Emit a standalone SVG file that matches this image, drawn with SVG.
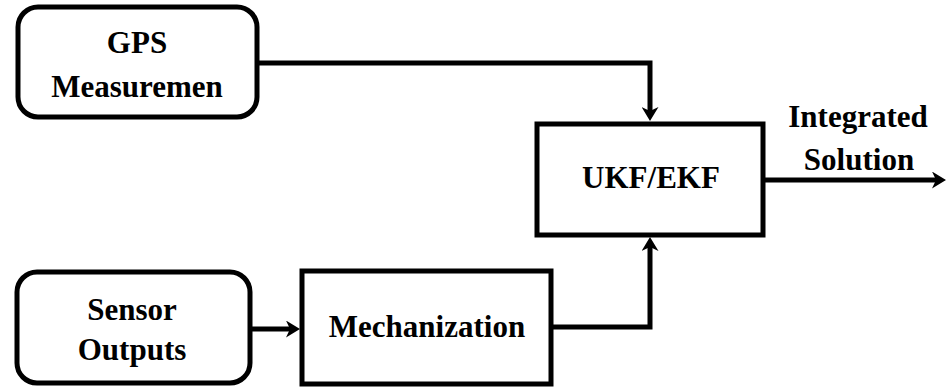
<svg xmlns="http://www.w3.org/2000/svg" width="947" height="392" viewBox="0 0 947 392">
<style>
.box{fill:#fff;stroke:#000;stroke-width:5}
.lbl{font-family:"Liberation Serif","Times New Roman",serif;font-weight:bold;font-size:31px;fill:#000;text-anchor:middle}
.conn{fill:none;stroke:#000;stroke-width:5;stroke-linejoin:miter}
</style>
<defs>
<marker id="arr" markerUnits="userSpaceOnUse" markerWidth="14" markerHeight="17" refX="4" refY="8.5" orient="auto" viewBox="0 0 14 17">
<path d="M0,0 L14,8.5 L0,17 L4,8.5 z" fill="#000"/>
</marker>
</defs>
<g id="connectors">
<path class="conn" d="M257,63 H650 V111" marker-end="url(#arr)"/>
<path class="conn" d="M250,329 H290" marker-end="url(#arr)"/>
<path class="conn" d="M551,327 H650 V247" marker-end="url(#arr)"/>
<path class="conn" d="M763,180 H936" marker-end="url(#arr)"/>
</g>
<g id="gps">
<rect class="box" x="18" y="7" width="239" height="110" rx="20" ry="20"/>
<text class="lbl" x="137" y="53">GPS</text>
<text class="lbl" x="137" y="97">Measuremen</text>
</g>
<g id="sensor">
<rect class="box" x="17" y="272" width="233" height="111" rx="20" ry="20"/>
<text class="lbl" x="132" y="320">Sensor</text>
<text class="lbl" x="132" y="360">Outputs</text>
</g>
<g id="mech">
<rect class="box" x="302" y="271" width="249" height="113"/>
<text class="lbl" x="427" y="337">Mechanization</text>
</g>
<g id="ukf">
<rect class="box" x="537" y="124" width="226" height="111"/>
<text class="lbl" x="651" y="188">UKF/EKF</text>
</g>
<g id="output">
<text class="lbl" x="858" y="127">Integrated</text>
<text class="lbl" x="859" y="170">Solution</text>
</g>
</svg>
